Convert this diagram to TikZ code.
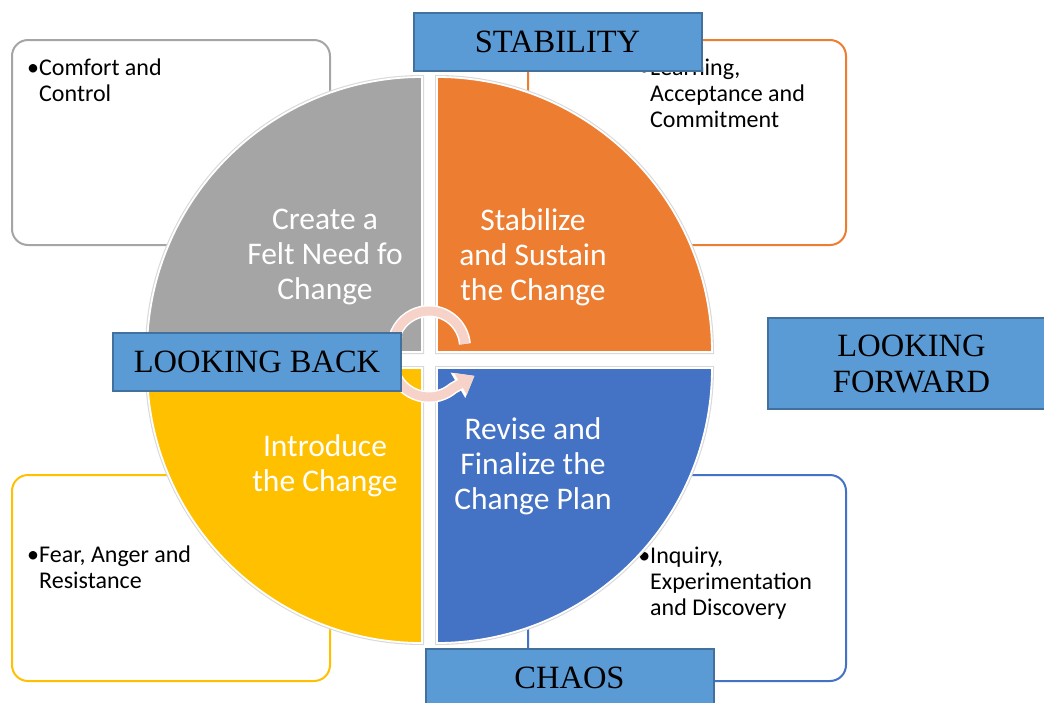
\documentclass[tikz,border=0pt]{standalone}
\usepackage{fontspec}
\setmainfont{Carlito}
\newfontfamily\labelfont{Liberation Serif}
\usetikzlibrary{arrows.meta}

\definecolor{quadgray}{HTML}{A5A5A5}
\definecolor{quadorange}{HTML}{ED7D31}
\definecolor{quadyellow}{HTML}{FFC000}
\definecolor{quadblue}{HTML}{4472C4}
\definecolor{tagfill}{HTML}{5B9BD5}
\definecolor{tagline}{HTML}{41719C}
\definecolor{cyclepink}{HTML}{F6D2C9}
\definecolor{rimgray}{HTML}{D9D9D9}

\begin{document}
\begin{tikzpicture}[x=1pt,y=-1pt,
  notebox/.style={rectangle, rounded corners=16pt, fill=white, line width=2pt,
    minimum width=318pt, minimum height=205pt, inner sep=0pt},
  notetext/.style={align=left, inner sep=0pt, text=black,
    font=\fontsize{24}{26}\selectfont},
  quadtext/.style={align=center, inner sep=0pt, text=white,
    font=\fontsize{31.5}{35}\selectfont},
  tagbox/.style={rectangle, fill=tagfill, draw=tagline, line width=2pt,
    minimum width=288pt, minimum height=58pt, inner sep=0pt, align=center,
    font=\labelfont\fontsize{32.5}{36}\selectfont},
  quadrim/.style={draw=rimgray, line width=4pt},
  quadface/.style={draw=white, line width=1.8pt},
  cycleedge/.style={white, line width=12pt, -{Triangle[width=28pt,length=19pt]}},
  cyclebody/.style={cyclepink, line width=9pt, -{Triangle[width=24pt,length=16pt]}},
]
\useasboundingbox (0,0) rectangle (1044,702);
\clip (0,0) rectangle (1044,702);

% note boxes behind the disc
\node[notebox, draw=quadgray]   (boxTL) at (171,142.5) {};
\node[notebox, draw=quadorange] (boxTR) at (687,142.5) {};
\node[notebox, draw=quadyellow, minimum height=206pt] (boxBL) at (171,578) {};
\node[notebox, draw=quadblue,   minimum height=206pt] (boxBR) at (687,578) {};

% note texts (anchored on the baseline of their last line)
\node[notetext, anchor=base west] (txtTL) at (39,101)  {\llap{•}Comfort and\\Control};
\node[notetext, anchor=base west] (txtTR) at (650,127) {\llap{•}Learning,\\Acceptance and\\Commitment};
\node[notetext, anchor=base west] (txtBL) at (39,588) {\llap{•}Fear, Anger and\\Resistance};
\node[notetext, anchor=base west] (txtBR) at (650,615) {\llap{•}Inquiry,\\Experimentation\\and Discovery};

% four quarter discs
\def\quadTL{(422,352) -- (422,77) arc[start angle=270, end angle=180, radius=275] -- cycle}
\def\quadTR{(437,352) -- (437,77) arc[start angle=270, end angle=360, radius=275] -- cycle}
\def\quadBR{(437,368) -- (712,368) arc[start angle=0, end angle=90, radius=275] -- cycle}
\def\quadBL{(422,368) -- (422,643) arc[start angle=90, end angle=180, radius=275] -- cycle}
\draw[quadrim] \quadTL; \draw[quadrim] \quadTR; \draw[quadrim] \quadBR; \draw[quadrim] \quadBL;
\filldraw[quadface, fill=quadgray]   \quadTL;
\filldraw[quadface, fill=quadorange] \quadTR;
\filldraw[quadface, fill=quadblue]   \quadBR;
\filldraw[quadface, fill=quadyellow] \quadBL;

\node[quadtext] (qTL) at (325,257) {Create a\\Felt Need fo\\Change};
\node[quadtext] (qTR) at (533,257) {Stabilize\\and Sustain\\the Change};
\node[quadtext] (qBL) at (325,466) {Introduce\\the Change};
\node[quadtext] (qBR) at (533,466) {Revise and\\Finalize the\\Change Plan};

% circular arrows at the centre
\coordinate (cycUp) at (429,347);
\coordinate (cycLow) at (429,360);
\draw[cycleedge] ([shift={(355:36)}]cycUp) arc[start angle=355, end angle=160, radius=36];
\draw[cyclebody] ([shift={(355:36)}]cycUp) arc[start angle=355, end angle=160, radius=36];
\draw[cycleedge] ([shift={(180:37)}]cycLow) arc[start angle=180, end angle=50, radius=37] -- ++(-30:25);
\draw[cyclebody] ([shift={(180:37)}]cycLow) arc[start angle=180, end angle=50, radius=37] -- ++(-30:25);

% direction labels
\node[tagbox] (stability) at (557.5,42) {STABILITY};
\node[tagbox] (lookback)  at (257,362)  {LOOKING BACK};
\node[tagbox, minimum height=91pt] (lookfwd) at (911.5,363.5) {LOOKING\\FORWARD};
\node[tagbox] (chaos)     at (569.5,678) {CHAOS};
\end{tikzpicture}
\end{document}
